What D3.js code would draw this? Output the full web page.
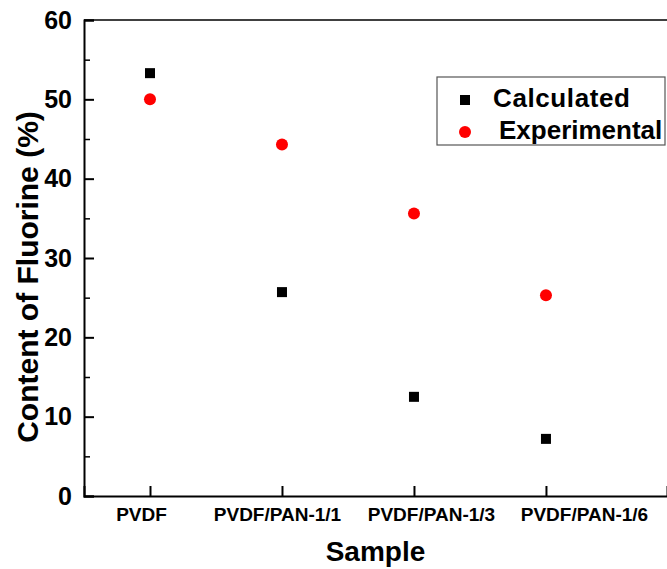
<!DOCTYPE html>
<html>
<head>
<meta charset="utf-8">
<script src="https://cdn.jsdelivr.net/npm/d3@7"></script>
<style>
  html, body { margin: 0; padding: 0; background: #fff; }
  svg { display: block; font-family: "Liberation Sans", Arial, sans-serif; }
</style>
</head>
<body>
<svg id="chart" width="667" height="569"></svg>
<script>
const samples = ["PVDF", "PVDF/PAN-1/1", "PVDF/PAN-1/3", "PVDF/PAN-1/6"];
const calculated = [53.3, 25.7, 12.5, 7.2];
const experimental = [50.0, 44.3, 35.6, 25.3];
const yTicks = [0, 10, 20, 30, 40, 50, 60];
const yMinorTicks = [5, 15, 25, 35, 45, 55];
const legendLabels = ["Calculated", "Experimental"];

const svg = d3.select("#chart");
const mLeft = 84, mRight = 667, mTop = 20, mBottom = 496;
// horizontal shift of each category label relative to its tick (as in the original figure)
const labelShift = [-9, -5, 17, 38];

const x = d3.scaleLinear().domain([0.5, 4.917]).range([mLeft, mRight]);
const y = d3.scaleLinear().domain([0, 60]).range([mBottom, mTop]);

// top frame line
svg.append("line").attr("x1", mLeft).attr("x2", mRight).attr("y1", mTop).attr("y2", mTop)
  .attr("stroke", "#000").attr("stroke-width", 1.5);

// Y axis
const yAxis = d3.axisLeft(y).tickValues(yTicks).tickSize(-10).tickPadding(12).tickFormat(d3.format("d"));
const gy = svg.append("g").attr("transform", `translate(${mLeft},0)`).call(yAxis);
gy.select(".domain").attr("stroke-width", 2);
gy.selectAll(".tick line").attr("stroke-width", 2);
gy.selectAll(".tick text").attr("font-size", 25).attr("font-weight", "bold")
  .attr("font-family", "Liberation Sans, Arial, sans-serif").attr("fill", "#000");
const gyMinor = svg.append("g").attr("transform", `translate(${mLeft},0)`)
  .call(d3.axisLeft(y).tickValues(yMinorTicks).tickSize(-6).tickFormat(""));
gyMinor.select(".domain").remove();
gyMinor.selectAll(".tick line").attr("stroke-width", 1.5);

// X axis
const xAxis = d3.axisBottom(x).tickValues([1, 2, 3, 4]).tickSize(-10).tickPadding(12)
  .tickFormat((d) => samples[d - 1]);
const gx = svg.append("g").attr("transform", `translate(0,${mBottom})`).call(xAxis);
gx.select(".domain").attr("stroke-width", 2);
gx.selectAll(".tick line").attr("stroke-width", 2);
gx.selectAll(".tick text").attr("font-size", 19).attr("font-weight", "bold")
  .attr("font-family", "Liberation Sans, Arial, sans-serif").attr("fill", "#000")
  .attr("dx", (d) => labelShift[d - 1]);

// axis titles
svg.append("text").attr("x", (mLeft + mRight) / 2).attr("y", 561)
  .attr("text-anchor", "middle").attr("font-size", 28).attr("font-weight", "bold")
  .text("Sample");
svg.append("text").attr("transform", `translate(38,${277}) rotate(-90)`)
  .attr("text-anchor", "middle").attr("font-size", 30).attr("font-weight", "bold")
  .text("Content of Fluorine (%)");

// points
const sq = 10;
svg.append("g").selectAll("rect").data(calculated).join("rect")
  .attr("x", (d, i) => x(i + 1) - sq / 2).attr("y", d => y(d) - sq / 2)
  .attr("width", sq).attr("height", sq).attr("fill", "#000");
svg.append("g").selectAll("circle").data(experimental).join("circle")
  .attr("cx", (d, i) => x(i + 1)).attr("cy", d => y(d)).attr("r", 6)
  .attr("fill", "#ff0000");

// legend
const lg = svg.append("g");
lg.append("rect").attr("x", 437).attr("y", 77).attr("width", 228).attr("height", 68)
  .attr("fill", "#fff").attr("stroke", "#555").attr("stroke-width", 1.2);
lg.append("rect").attr("x", 465 - sq / 2).attr("y", 100 - sq / 2).attr("width", sq).attr("height", sq).attr("fill", "#000");
lg.append("circle").attr("cx", 465).attr("cy", 132).attr("r", 6).attr("fill", "#ff0000");
lg.append("text").attr("x", 493).attr("y", 107).attr("font-size", 26).attr("font-weight", "bold")
  .attr("letter-spacing", 0.6).text(legendLabels[0]);
lg.append("text").attr("x", 499).attr("y", 139).attr("font-size", 26).attr("font-weight", "bold").text(legendLabels[1]);
</script>
</body>
</html>
